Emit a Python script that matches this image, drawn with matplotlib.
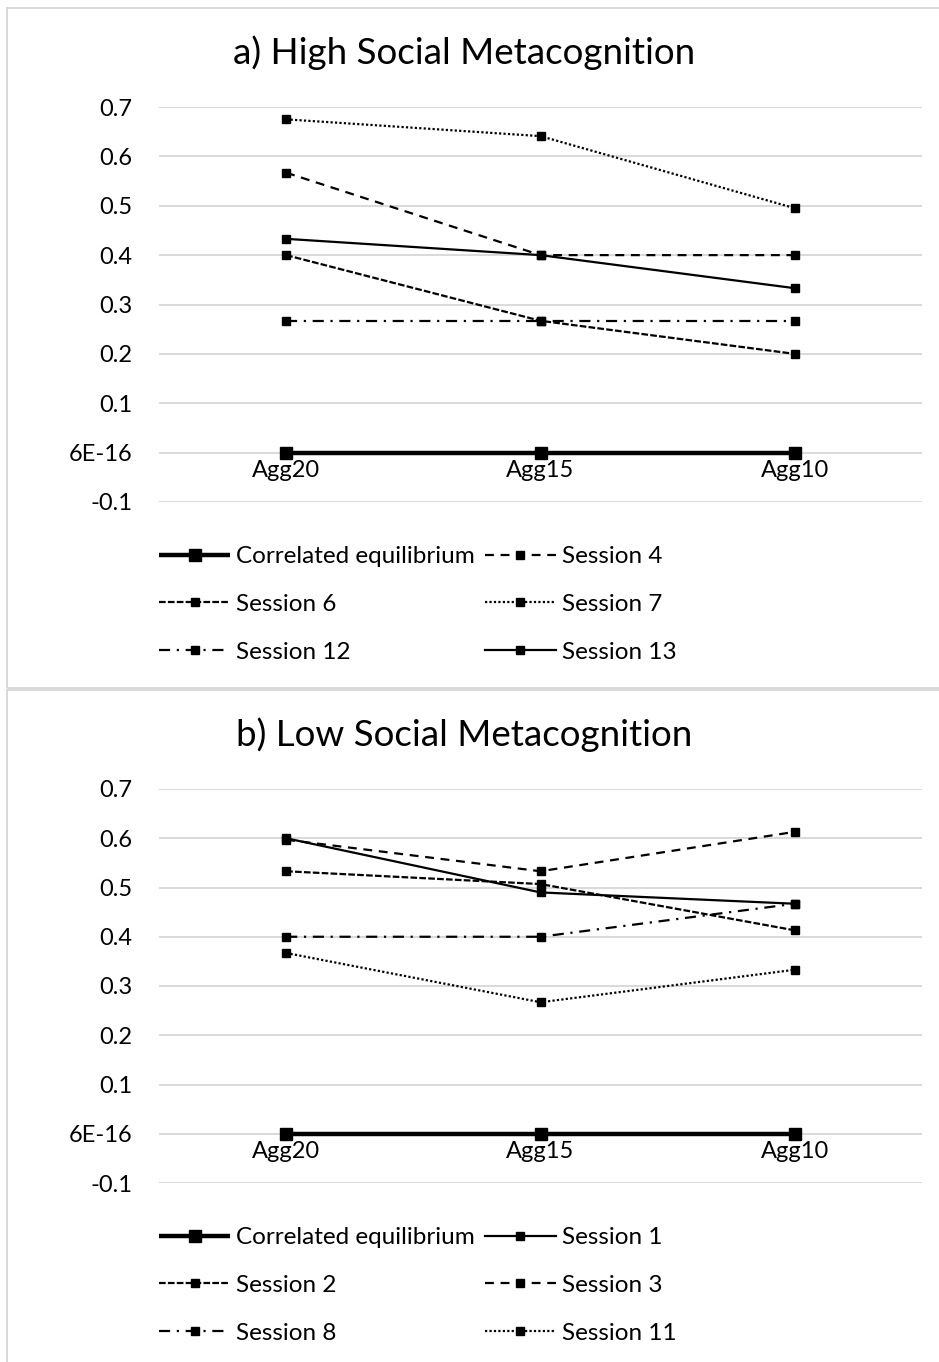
import matplotlib
matplotlib.use("Agg")
import matplotlib.pyplot as plt
from matplotlib.patches import Rectangle

plt.rcParams['font.family'] = ['Lato', 'DejaVu Sans']

categories = ["Agg20", "Agg15", "Agg10"]
y_ticks = [-0.1, 0.0, 0.1, 0.2, 0.3, 0.4, 0.5, 0.6, 0.7]
y_tick_labels = ["-0.1", "6E-16", "0.1", "0.2", "0.3", "0.4", "0.5", "0.6", "0.7"]

titles = ["a) High Social Metacognition", "b) Low Social Metacognition"]

# Panel a
a_correlated = [6e-16, 6e-16, 6e-16]
a_session4 = [0.567, 0.400, 0.400]
a_session6 = [0.400, 0.267, 0.200]
a_session7 = [0.675, 0.641, 0.495]
a_session12 = [0.267, 0.267, 0.267]
a_session13 = [0.433, 0.400, 0.333]

# Panel b
b_correlated = [6e-16, 6e-16, 6e-16]
b_session1 = [0.600, 0.490, 0.467]
b_session2 = [0.533, 0.507, 0.413]
b_session3 = [0.597, 0.533, 0.613]
b_session8 = [0.400, 0.400, 0.467]
b_session11 = [0.367, 0.267, 0.333]

W, H = 939, 1362
fig = plt.figure(figsize=(W / 100, H / 100), dpi=100)

GRID = '#d9d9d9'
FS = 17
LFS = 17.5

styles = {
    'solid': dict(linestyle='-'),
    'longdash': dict(dashes=(4, 3)),
    'shortdash': dict(dashes=(3, 1)),
    'dot': dict(dashes=(1, 1)),
    'dashdot': dict(dashes=(5, 3, 1, 3)),
}

panel_a = [
    ("Correlated equilibrium", a_correlated, 'corr'),
    ("Session 4", a_session4, 'longdash'),
    ("Session 6", a_session6, 'shortdash'),
    ("Session 7", a_session7, 'dot'),
    ("Session 12", a_session12, 'dashdot'),
    ("Session 13", a_session13, 'solid'),
]
panel_b = [
    ("Correlated equilibrium", b_correlated, 'corr'),
    ("Session 1", b_session1, 'solid'),
    ("Session 2", b_session2, 'shortdash'),
    ("Session 3", b_session3, 'longdash'),
    ("Session 8", b_session8, 'dashdot'),
    ("Session 11", b_session11, 'dot'),
]


def px_axes(left, top, right, bottom):
    return fig.add_axes([left / W, 1 - bottom / H, (right - left) / W, (bottom - top) / H])


def draw_panel(series, title, top_px, bottom_px, title_y, legend_top):
    ax = px_axes(159, top_px, 922, bottom_px)
    x = list(range(len(categories)))
    handles = []
    for label, vals, st in series:
        if st == 'corr':
            h, = ax.plot(x, vals, color='black', lw=3.2, marker='s', markersize=9,
                         label=label, zorder=3, solid_capstyle='butt')
        else:
            h, = ax.plot(x, vals, color='black', lw=1.6, marker='s', markersize=5.5,
                         label=label, zorder=4, **styles[st])
        handles.append(h)
    ax.set_xlim(-0.5, 2.5)
    ax.set_ylim(-0.1, 0.7)
    ax.set_yticks(y_ticks)
    ax.set_yticklabels(y_tick_labels)
    ax.set_xticks(x)
    ax.set_xticklabels(categories)
    for s in ['top', 'right', 'left']:
        ax.spines[s].set_visible(False)
    ax.spines['bottom'].set_position(('data', 0))
    ax.spines['bottom'].set_visible(False)
    ax.tick_params(axis='y', length=0, pad=19, labelsize=FS, colors='black')
    ax.tick_params(axis='x', length=0, pad=5, labelsize=FS, colors='black')
    ax.grid(axis='y', color=GRID, lw=1.4)
    ax.set_axisbelow(True)
    fig.text(464 / W, 1 - title_y / H, title, ha='center', va='center', fontsize=26.5)
    # legend, row-wise order as in reference
    order = [0, 2, 4, 1, 3, 5]
    fig.legend([handles[i] for i in order], [series[i][0] for i in order],
               ncol=2, loc='upper left',
               bbox_to_anchor=(159 / W, 1 - legend_top / H),
               frameon=False, fontsize=LFS, handlelength=2.93, handletextpad=0.25,
               columnspacing=0.4, labelspacing=1.1, borderaxespad=0, borderpad=0)
    return ax


draw_panel(panel_a, titles[0], 107, 502, 53, 546)
draw_panel(panel_b, titles[1], 789, 1183, 735, 1227)

# chart area borders
fig.patches.append(Rectangle((7 / W, 1 - 688 / H), 1.0, 680 / H, transform=fig.transFigure,
                             fill=False, edgecolor=GRID, lw=1.4))
fig.patches.append(Rectangle((7 / W, 1 - 1380 / H), 1.0, 690 / H, transform=fig.transFigure,
                             fill=False, edgecolor=GRID, lw=1.4))

fig.savefig('out.png', dpi=100)
